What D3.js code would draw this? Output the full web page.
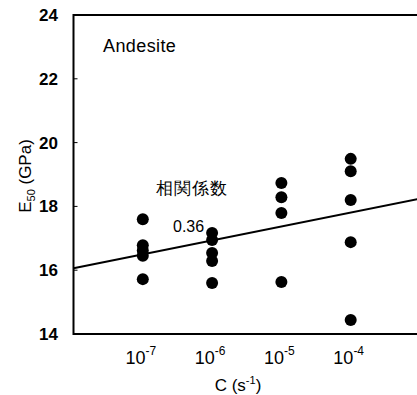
<!DOCTYPE html>
<html lang="ja">
<head>
  <meta charset="UTF-8">
  <title>Andesite E50</title>
  <script src="https://d3js.org/d3.v7.min.js"></script>
  <style>
    body { margin: 0; background: #fff; }
    text { font-family: "Liberation Sans", Arial, sans-serif; fill: #000; }
  </style>
</head>
<body>
  <div id="chart"></div>
  <script>
    // strain rate groups and the E50 readings measured at each
    const strainRates = [1e-7, 1e-6, 1e-5, 1e-4];
    const e50Values = [
      [17.6, 16.78, 16.62, 16.45, 15.72],
      [17.17, 16.95, 16.54, 16.29, 15.6],
      [18.73, 18.29, 17.79, 15.63],
      [19.49, 19.1, 18.2, 16.88, 14.44]
    ];
    const yTicks = [14, 16, 18, 20, 22, 24];
    // regression line end points (log scale)
    const fitRates = [1e-8, 1e-3];
    const fitE50 = [16.06, 18.24];

    const width = 417, height = 395;

    const svg = d3.select("#chart").append("svg")
      .attr("width", width)
      .attr("height", height);

    const x = d3.scaleLog().domain([1e-8, 1e-3]).range([73.5, 420]);
    const y = d3.scaleLinear().domain([14, 24]).range([334, 15]);

    const points = strainRates.flatMap((c, i) => e50Values[i].map(v => ({ c, v })));

    // frame: left, top and bottom
    svg.append("path")
      .attr("d", `M${width + 5},${y(24)}H${x(1e-8)}V${y(14)}H${width + 5}`)
      .attr("fill", "none")
      .attr("stroke", "#000")
      .attr("stroke-width", 2);

    // small inner ticks on y axis
    svg.selectAll(".ytick")
      .data(yTicks.slice(1, -1))
      .enter().append("line")
      .attr("x1", x(1e-8)).attr("x2", x(1e-8) + 4)
      .attr("y1", d => y(d)).attr("y2", d => y(d))
      .attr("stroke", "#000").attr("stroke-width", 1);

    svg.selectAll(".ylab")
      .data(yTicks)
      .enter().append("text")
      .attr("x", 58)
      .attr("y", d => y(d) + 6)
      .attr("text-anchor", "end")
      .attr("font-size", 17)
      .attr("font-weight", "bold")
      .text(d => d);

    const xl = svg.selectAll(".xlab")
      .data(strainRates)
      .enter().append("text")
      .attr("x", d => x(d) - 2)
      .attr("y", 364)
      .attr("text-anchor", "middle")
      .attr("font-size", 18);
    xl.append("tspan").text("10");
    xl.append("tspan").attr("dy", -9).attr("font-size", 12)
      .text(d => "-" + Math.round(-Math.log10(d)));

    // axis titles
    const xt = svg.append("text")
      .attr("x", 238).attr("y", 391)
      .attr("text-anchor", "middle")
      .attr("font-size", 17);
    xt.append("tspan").text("C (s");
    xt.append("tspan").attr("dy", -7).attr("font-size", 11).text("-1");
    xt.append("tspan").attr("dy", 7).text(")");

    const yt = svg.append("text")
      .attr("transform", "translate(31,176) rotate(-90)")
      .attr("text-anchor", "middle")
      .attr("font-size", 17);
    yt.append("tspan").text("E");
    yt.append("tspan").attr("dy", 4).attr("font-size", 11).text("50");
    yt.append("tspan").attr("dy", -4).text(" (GPa)");

    // regression line
    svg.append("line")
      .attr("x1", x(fitRates[0])).attr("y1", y(fitE50[0]))
      .attr("x2", x(fitRates[1])).attr("y2", y(fitE50[1]))
      .attr("stroke", "#000").attr("stroke-width", 2);

    svg.selectAll(".dot")
      .data(points)
      .enter().append("circle")
      .attr("cx", d => x(d.c))
      .attr("cy", d => y(d.v))
      .attr("r", 6)
      .attr("fill", "#000");

    svg.append("text")
      .attr("x", 103).attr("y", 52)
      .attr("font-size", 18)
      .attr("letter-spacing", 0.4)
      .text("Andesite");

    svg.append("text")
      .attr("x", 156).attr("y", 194)
      .attr("font-family", "'Noto Sans CJK JP', sans-serif")
      .attr("font-size", 17)
      .attr("font-weight", 500)
      .attr("letter-spacing", 1)
      .text("相関係数");

    svg.append("text")
      .attr("x", 173).attr("y", 232)
      .attr("font-size", 16)
      .text("0.36");
  </script>
</body>
</html>
